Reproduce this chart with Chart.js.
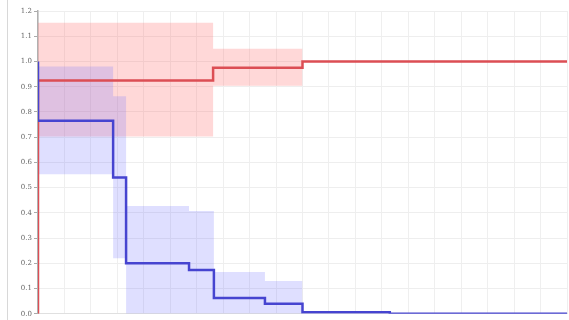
<!DOCTYPE html>
<html>
<head>
<meta charset="utf-8">
<script src="https://cdn.jsdelivr.net/npm/chart.js@4"></script>
<style>
  html, body { margin: 0; padding: 0; background: #fff; }
  #wrap { position: relative; width: 569px; height: 320px; }
</style>
</head>
<body>
<div id="wrap"><canvas id="km" width="569" height="320"></canvas></div>
<script>
// Survival estimates per group (step functions) with confidence bands
const blueTimes = [0, 0, 2.84, 3.33, 5.71, 6.65, 8.58, 10, 13.3, 20];
const blueSurv  = [1.0, 0.765, 0.54, 0.20, 0.174, 0.063, 0.04, 0.006, 0.0, 0.0];

const blueBandTimes = [0, 2.84, 3.33, 5.71, 6.65, 8.58, 10];
const blueUpper     = [0.98, 0.862, 0.427, 0.407, 0.166, 0.13, 0];
const blueLower     = [0.553, 0.22, 0, 0, 0, 0, 0];

const redTimes = [0, 0, 6.62, 10, 20];
const redSurv  = [0, 0.925, 0.975, 1.0, 1.0];

const redBandTimes = [0, 6.62, 10];
const redUpper     = [1.153, 1.05, 1.0];
const redLower     = [0.703, 0.904, 1.0];

const yTicks = ['0.0','0.1','0.2','0.3','0.4','0.5','0.6','0.7','0.8','0.9','1.0','1.1','1.2'];

const pts = (xs, ys) => xs.map((x, i) => ({ x: x, y: ys[i] }));

const RED = 'rgb(220,78,84)';
const BLUE = 'rgb(70,68,208)';
const RED_BAND = 'rgba(255,110,110,0.27)';
const BLUE_BAND = 'rgba(110,110,255,0.22)';

// thin frame line at the panel's left edge
const panelEdge = {
  id: 'panelEdge',
  beforeDraw(chart) {
    const c = chart.ctx;
    c.save();
    c.strokeStyle = '#d8d8d8';
    c.lineWidth = 1;
    c.beginPath();
    c.moveTo(7.5, 0);
    c.lineTo(7.5, chart.height);
    c.stroke();
    c.restore();
  }
};

const common = { pointRadius: 0, stepped: true, tension: 0 };

new Chart(document.getElementById('km'), {
  type: 'line',
  data: {
    datasets: [
      Object.assign({ label: 'blue', data: pts(blueTimes, blueSurv), borderColor: BLUE, borderWidth: 2.5, fill: false }, common),
      Object.assign({ label: 'red', data: pts(redTimes, redSurv), borderColor: RED, borderWidth: 2.5, fill: false }, common),
      Object.assign({ label: 'blueUp', data: pts(blueBandTimes, blueUpper), borderWidth: 0, borderColor: 'rgba(0,0,0,0)', backgroundColor: BLUE_BAND, fill: '+1' }, common),
      Object.assign({ label: 'blueLo', data: pts(blueBandTimes, blueLower), borderWidth: 0, borderColor: 'rgba(0,0,0,0)', fill: false }, common),
      Object.assign({ label: 'redUp', data: pts(redBandTimes, redUpper), borderWidth: 0, borderColor: 'rgba(0,0,0,0)', backgroundColor: RED_BAND, fill: '+1' }, common),
      Object.assign({ label: 'redLo', data: pts(redBandTimes, redLower), borderWidth: 0, borderColor: 'rgba(0,0,0,0)', fill: false }, common)
    ]
  },
  options: {
    responsive: false,
    animation: false,
    layout: { padding: { left: 0, right: 2, top: 11, bottom: 5 } },
    plugins: { legend: { display: false }, tooltip: { enabled: false } },
    scales: {
      x: {
        type: 'linear',
        min: 0, max: 20,
        ticks: { display: false, stepSize: 1 },
        grid: { color: '#efefef', drawTicks: false },
        border: { color: '#e0e0e0' },
        afterFit: (s) => { s.height = 0; }
      },
      y: {
        min: 0, max: 1.2,
        ticks: {
          stepSize: 0.1,
          padding: 2,
          color: '#666',
          font: { family: 'DejaVu Serif', size: 7 },
          callback: (v) => yTicks[Math.round(v * 10)]
        },
        grid: { color: '#eeeeee', tickLength: 4, tickColor: '#aaa' },
        border: { color: '#b0b0b0', width: 1.5 },
        afterFit: (s) => { s.width = 38; }
      }
    }
  },
  plugins: [panelEdge]
});
</script>
</body>
</html>
